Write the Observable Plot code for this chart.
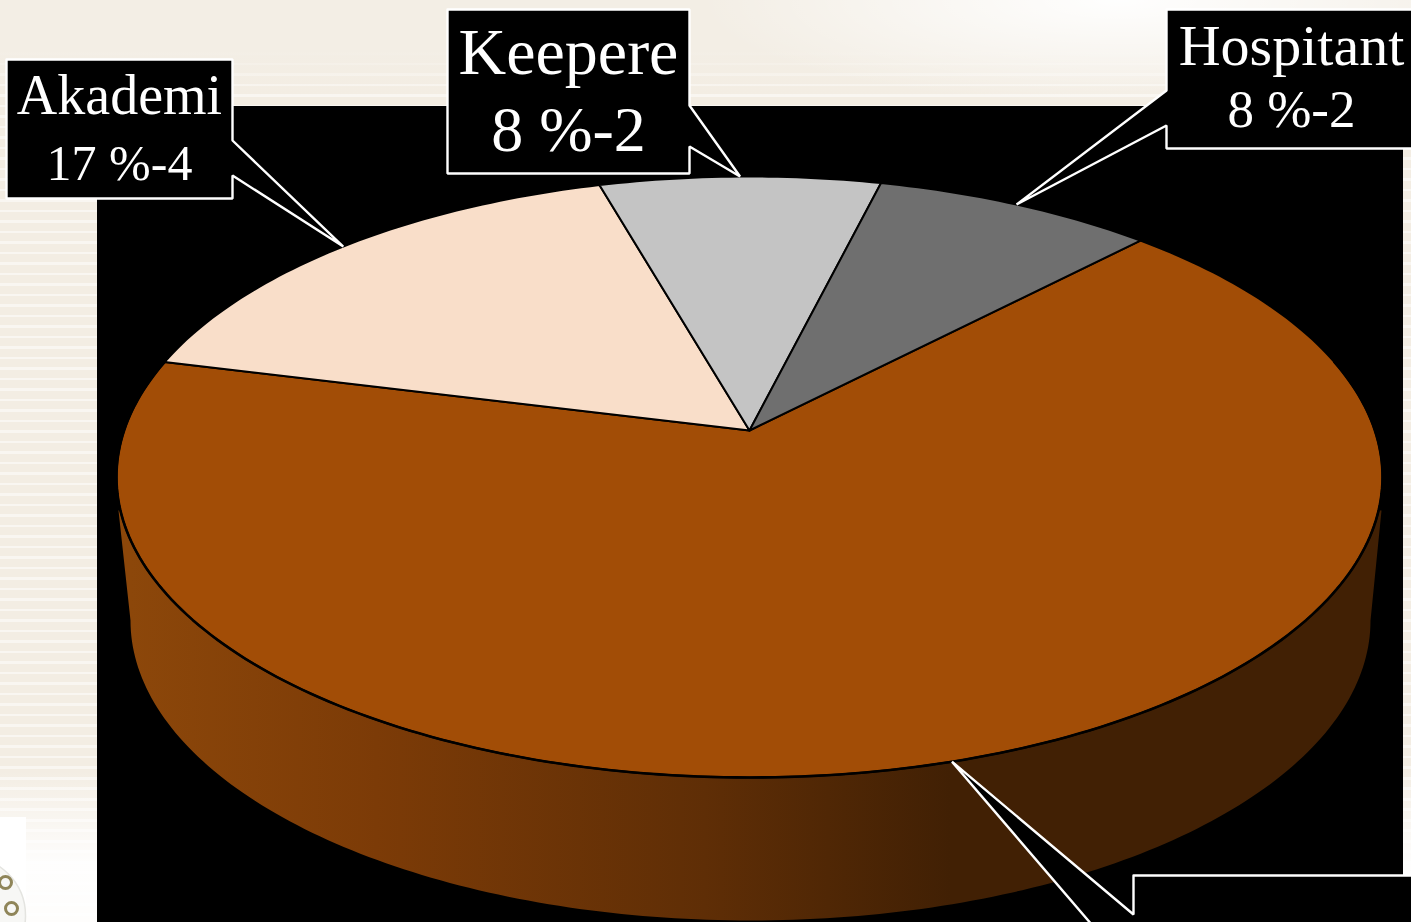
<!DOCTYPE html>
<html>
<head>
<meta charset="utf-8">
<script src="https://cdn.jsdelivr.net/npm/d3@7"></script>
<script src="https://cdn.jsdelivr.net/npm/@observablehq/plot@0.6"></script>
<style>
html,body{margin:0;padding:0;overflow:hidden;width:1411px;height:922px}
body{background:
 radial-gradient(ellipse 420px 105px at 1120px 0px, rgba(255,255,255,.97), rgba(255,255,255,0)),
 linear-gradient(to bottom, #f3eee5 0, #f3eee5 50px, rgba(243,238,229,0) 95px),
 linear-gradient(to bottom, rgba(255,255,255,0) 0, rgba(255,255,255,0) 770px, rgba(255,255,255,.93) 865px, rgba(255,255,255,.9) 922px),
 repeating-linear-gradient(to bottom, rgba(255,255,255,.5) 0 2.5px, rgba(255,255,255,0) 2.5px 10.5px),
 #f3ede3;}
svg{display:block}
</style>
</head>
<body>
<div id="chart"></div>
<script>
// ---- data ----
const categories = ["", "Akademi", "Keepere", "Hospitant"];
const counts = [16, 4, 2, 2];
const percents = [67, 17, 8, 8];
const sliceColors = ["#A24D06", "#F9DEC9", "#C4C4C4", "#6F6F6F"];

// ---- layout of the page (pixels) ----
const W = 1411, H = 922;
const apex = {x: 749, y: 430, rx: 625.4, ry: 293.3};
const tilt = -0.1547;            // perspective of the pie's top face
const startDeg = 44;             // first slice starts here, clockwise from north
const wallEllipse = {x: 750, y: 620, rx: 620, ry: 300};
const panel = {x1: 97, x2: 1403, y1: 106, y2: 922};
const boxes = {
  Akademi:   {x1: 6,    x2: 232,  y1: 59,  y2: 198, a: [232, 140], b: [232, 175], side: "right",
              tx: 119, ty1: 96, ty2: 163, fs1: 56, fs2: 50},
  Keepere:   {x1: 447,  x2: 689,  y1: 9,   y2: 173, a: [689, 105], b: [689, 146], side: "right",
              tx: 568, ty1: 52, ty2: 130, fs1: 66, fs2: 64},
  Hospitant: {x1: 1166, x2: 1420, y1: 9,   y2: 148, a: [1166, 90], b: [1166, 125], side: "left",
              tx: 1291, ty1: 46, ty2: 110, fs1: 58, fs2: 53}
};
const fallBox = {x1: 1133, y1: 875, a: [1133, 914], b: [1122, 960]};

// pixel -> scale units
const ux = px => (px - apex.x) / apex.rx;
const uy = py => (py - apex.y) / apex.ry;

// perspective projection of a point on the pie's unit circle, by degrees clockwise from north
function rim(deg) {
  const t = deg * Math.PI / 180, X = Math.sin(t), Y = -Math.cos(t), w = 1 + tilt * Y;
  return {x: X / w, y: Y / w};
}
const total = d3.sum(counts);
let cursor = startDeg;
const slices = categories.map((name, i) => {
  const a0 = cursor, a1 = cursor + counts[i] / total * 360;
  cursor = a1;
  return {name, key: "s" + i, a0, a1, mid: (a0 + a1) / 2, color: sliceColors[i], count: counts[i], pct: percents[i]};
});
const slicePts = slices.flatMap(s => {
  const pts = [{x: 0, y: 0}];
  for (let a = s.a0; a < s.a1; a += 1) pts.push(rim(a));
  pts.push(rim(s.a1), {x: 0, y: 0});
  return pts.map(p => ({...p, key: s.key}));
});

// side wall
const wallPts = [{x: ux(118), y: uy(510)}];
for (let a = 270; a >= 90; a -= 1) {
  const t = a * Math.PI / 180;
  wallPts.push({x: ux(wallEllipse.x + wallEllipse.rx * Math.sin(t)), y: uy(wallEllipse.y - wallEllipse.ry * Math.cos(t))});
}
wallPts.push({x: ux(1381), y: uy(510)}, {x: ux(750), y: uy(500)});

// rim outlines
const rimFront = d3.range(76, 285, 1).map(rim);

// callouts: box + pointer whose tip lands on the slice's rim, at mid-angle
const calloutPts = [];
const P = ([x, y]) => [ux(x), uy(y)];
for (const s of slices) {
  const tip = rim(s.mid);
  const b = boxes[s.name];
  const T = [tip.x, tip.y];
  let poly;
  if (b) {
    if (b.side === "right") {
      poly = [P([b.x1, b.y1]), P([b.x2, b.y1]), P(b.a), T, P(b.b), P([b.x2, b.y2]), P([b.x1, b.y2]), P([b.x1, b.y1])];
    } else {
      poly = [P([b.x1, b.y1]), P([b.x2, b.y1]), P([b.x2, b.y2]), P([b.x1, b.y2]), P(b.b), T, P(b.a), P([b.x1, b.y1])];
    }
  } else {
    poly = [P([fallBox.x1, fallBox.y1]), P([1420, fallBox.y1]), P([1420, 960]), P(fallBox.b), T, P(fallBox.a), P([fallBox.x1, fallBox.y1])];
  }
  poly.forEach(([x, y]) => calloutPts.push({x, y, key: s.key}));
}
const labels = slices.filter(s => boxes[s.name]).flatMap(s => {
  const b = boxes[s.name];
  return [
    {x: ux(b.tx), y: uy(b.ty1), t: s.name, fs: b.fs1},
    {x: ux(b.tx), y: uy(b.ty2), t: `${s.pct} %-${s.count}`, fs: b.fs2}
  ];
});

const chain = [{x: 5, y: 882}, {x: 11, y: 908}].map(d => ({x: ux(d.x), y: uy(d.y)}));

const plot = Plot.plot({
  width: W, height: H, margin: 0,
  style: {background: "transparent", overflow: "hidden"},
  x: {domain: [-1, 1], range: [apex.x - apex.rx, apex.x + apex.rx], axis: null},
  y: {domain: [-1, 1], range: [apex.y - apex.ry, apex.y + apex.ry], axis: null},
  color: {domain: slices.map(s => s.key), range: sliceColors},
  marks: [
    // emblem corner
    Plot.rect([0], {x1: ux(0), x2: ux(26), y1: uy(817), y2: uy(922), fill: "#ffffff"}),
    Plot.dot([{x: ux(-34), y: uy(915)}], {x: "x", y: "y", r: 59, fill: "#f7f7f5", stroke: "#e4e4e0"}),
    Plot.dot(chain, {x: "x", y: "y", r: 6, stroke: "#8f8559", strokeWidth: 3, fill: "none"}),
    // black panel
    Plot.rect([0], {x1: ux(panel.x1), x2: ux(panel.x2), y1: uy(panel.y1), y2: uy(panel.y2), fill: "#000"}),
    // wall
    Plot.line(wallPts, {x: "x", y: "y", fill: "url(#wall)", stroke: "none", curve: "linear"}),
    // top face
    Plot.line(slicePts, {x: "x", y: "y", z: "key", fill: "key", stroke: "#000", strokeWidth: 2, curve: "linear", strokeLinejoin: "round"}),
    Plot.line(rimFront, {x: "x", y: "y", stroke: "#000", strokeWidth: 2.6, curve: "linear"}),
    // callouts
    Plot.line(calloutPts, {x: "x", y: "y", z: "key", fill: "#000", stroke: "#fff", strokeWidth: 2.4, curve: "linear", strokeLinejoin: "miter"}),
    Plot.text(labels, {x: "x", y: "y", text: "t", fontSize: "fs", fill: "#fff", textAnchor: "middle", fontFamily: "'Liberation Serif', serif"})
  ]
});
plot.insertAdjacentHTML("afterbegin",
  `<defs><linearGradient id="wall" gradientUnits="userSpaceOnUse" x1="130" x2="950" y1="0" y2="0">
    <stop offset="0" stop-color="#8C470A"/><stop offset="0.3" stop-color="#7C3B07"/><stop offset="0.7" stop-color="#5F2E06"/><stop offset="1" stop-color="#412004"/>
  </linearGradient></defs>`);
document.getElementById("chart").append(plot);
</script>
</body>
</html>
